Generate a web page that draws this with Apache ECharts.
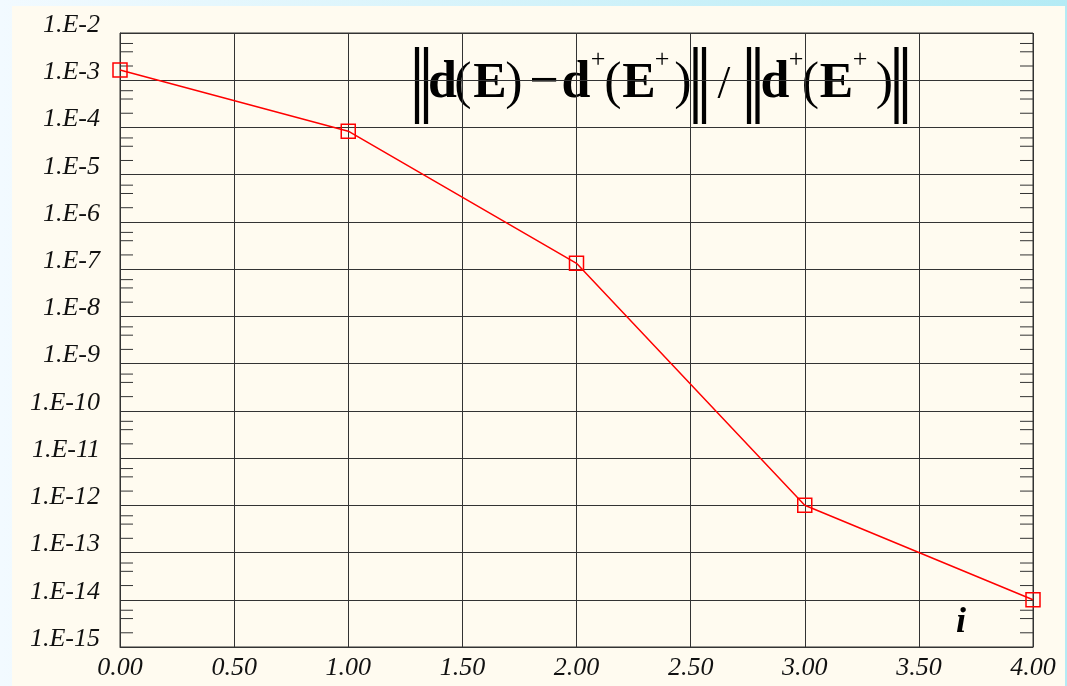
<!DOCTYPE html>
<html><head><meta charset="utf-8">
<script src="https://cdn.jsdelivr.net/npm/echarts@6/dist/echarts.min.js"></script>
<style>
html,body{margin:0;padding:0;width:1067px;height:686px;overflow:hidden;background:linear-gradient(to right,#f2faff,#b4ebf5);}
#paper{position:absolute;left:12px;top:6px;width:1053px;height:680px;background:#fffbf0;}
#chart{position:absolute;left:0;top:0;width:1067px;height:686px;}
</style></head><body>
<div id="paper"></div><div id="chart"></div>
<script>
// ---- data ----
const iterations = [0, 1, 2, 3, 4];
const relErrors = [1.65e-3, 8.35e-5, 1.33e-7, 1.0e-12, 1.0e-14];
const xMin = 0, xMax = 4, xStep = 0.5;
const yMin = 1e-15, yMax = 1e-2;
const minorMultipliers = [2, 4, 6];
const axisLabelText = 'i';

// minor tick values inside each decade
const minorTickValues = [];
for (let e = -15; e < -2; e++) {
  minorMultipliers.forEach(m => minorTickValues.push([xMin, m * Math.pow(10, e)]));
}

const serif = 'Liberation Serif';
function st(size, weight, style) {
  return { fontSize: size, fontWeight: weight || 'normal', fontStyle: style || 'normal', fontFamily: serif };
}
const mainFont = st(52, 'bold');
const eFont = st(50, 'bold');
const parFont = st(52, 'normal');
const supFont = st(26, 'normal');
const barFont = st(85, 'normal');
const slashFont = st(46, 'normal');

function txt(t, x, y, f) {
  return { type: 'text', x: x, y: y, silent: true,
    style: Object.assign({ text: t, fill: '#000', align: 'center', verticalAlign: 'middle' }, f) };
}
const formula = [
  ['|', 417, 84, barFont], ['|', 426, 84, barFont],
  ['d', 442.5, 84, mainFont], ['(', 463, 84, parFont], ['E', 490, 84, eFont], [')', 514, 84, parFont],
  ['\u2212', 544, 84, mainFont],
  ['d', 576, 84, mainFont], ['+', 598, 60, supFont],
  ['(', 613, 84, parFont], ['E', 639, 84, eFont], ['+', 662, 60, supFont], [')', 683, 84, parFont],
  ['|', 695.5, 84, barFont], ['|', 704, 84, barFont],
  ['/', 724, 86, slashFont],
  ['|', 749, 84, barFont], ['|', 757.5, 84, barFont],
  ['d', 775, 84, mainFont], ['+', 796, 60, supFont],
  ['(', 810.5, 84, parFont], ['E', 836.5, 84, eFont], ['+', 860, 60, supFont], [')', 884.5, 84, parFont],
  ['|', 896.5, 84, barFont], ['|', 905, 84, barFont]
].map(p => txt(p[0], p[1], p[2], p[3]));
formula.push(txt(axisLabelText, 961, 623, st(36, 'bold', 'italic')));

const chart = echarts.init(document.getElementById('chart'), null, { renderer: 'canvas' });
chart.setOption({
  backgroundColor: 'transparent',
  animation: false,
  grid: { left: 120, top: 33, right: 34, bottom: 39, show: true, borderColor: '#333', borderWidth: 1,
          backgroundColor: 'transparent' },
  xAxis: {
    type: 'value', min: xMin, max: xMax, interval: xStep,
    axisLine: { show: true, lineStyle: { color: '#333', width: 1 } },
    axisTick: { show: false },
    splitLine: { show: true, lineStyle: { color: '#333', width: 1 } },
    axisLabel: { margin: 8, color: '#111', fontFamily: serif, fontStyle: 'italic', fontSize: 26,
                 formatter: v => '{t|' + v.toFixed(2) + '}',
                 rich: { t: { fontFamily: serif, fontStyle: 'italic', fontSize: 26, color: '#111' } } }
  },
  yAxis: {
    type: 'log', logBase: 10, min: yMin, max: yMax, interval: 1,
    axisLine: { show: true, lineStyle: { color: '#333', width: 1 } },
    axisTick: { show: false },
    minorTick: { show: false },
    splitLine: { show: true, lineStyle: { color: '#333', width: 1 } },
    axisLabel: { margin: 20, color: '#111', fontFamily: serif, fontStyle: 'italic', fontSize: 26,
                 formatter: v => '{t|1.E' + Math.round(Math.log10(v)) + '}',
                 rich: { t: { fontFamily: serif, fontStyle: 'italic', fontSize: 26, color: '#111',
                              padding: [0, 0, 16, 0] } } }
  },
  graphic: formula,
  series: [
    {
      type: 'custom', silent: true, clip: false, z: 1,
      data: minorTickValues,
      renderItem: function (params, api) {
        const v = api.value(1);
        const pl = api.coord([xMin, v]);
        const pr = api.coord([xMax, v]);
        const s = { stroke: '#333', lineWidth: 1 };
        return { type: 'group', children: [
          { type: 'line', shape: { x1: pl[0], y1: pl[1], x2: pl[0] + 13, y2: pl[1] }, style: s },
          { type: 'line', shape: { x1: pr[0] - 13, y1: pr[1], x2: pr[0], y2: pr[1] }, style: s }
        ] };
      }
    },
    {
      type: 'line', z: 5,
      data: iterations.map((x, i) => [x, relErrors[i]]),
      color: '#ff0000',
      lineStyle: { color: '#ff0000', width: 1.5 },
      symbol: 'rect', symbolSize: 14, showAllSymbol: true,
      itemStyle: { color: 'rgba(0,0,0,0)', borderColor: '#ff0000', borderWidth: 1.5 }
    }
  ]
});
</script>
</body></html>
